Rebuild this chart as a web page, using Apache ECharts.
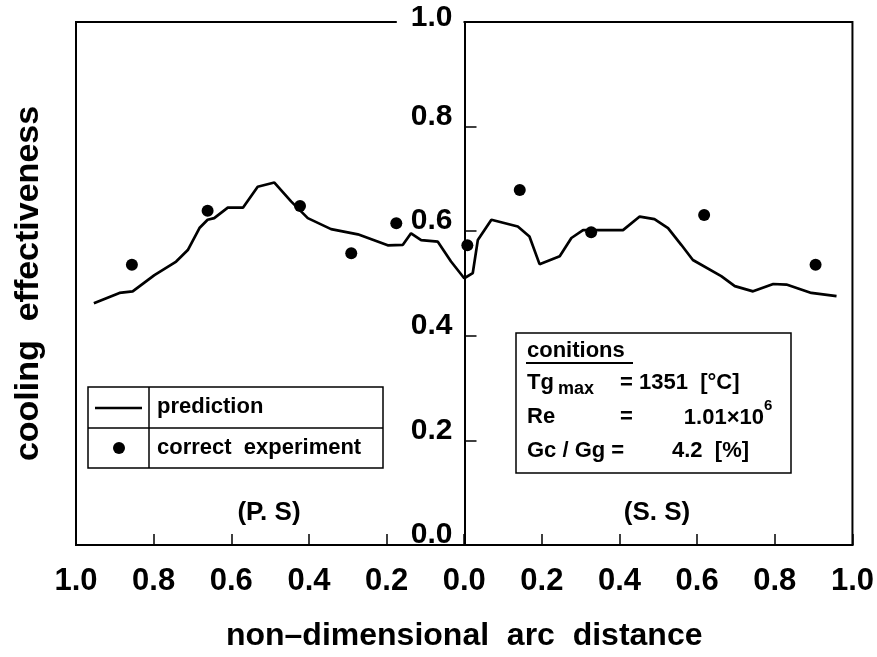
<!DOCTYPE html>
<html>
<head>
<meta charset="utf-8">
<script src="https://cdn.jsdelivr.net/npm/echarts@6/dist/echarts.min.js"></script>
<style>html,body{margin:0;padding:0;background:#fff;}#c{width:877px;height:657px;}</style>
</head>
<body>
<div id="c"></div>
<script>
// Prediction, pressure side (P.S): distance from leading edge, effectiveness
const predPSDist = [0.954,0.888,0.854,0.798,0.742,0.712,0.682,0.661,0.644,0.609,0.570,0.532,0.489,0.446,0.403,0.343,0.274,0.197,0.158,0.137,0.111,0.068,0.034,0.000];
const predPSVal  = [0.462,0.482,0.485,0.516,0.542,0.564,0.606,0.622,0.625,0.645,0.645,0.685,0.693,0.657,0.625,0.604,0.594,0.573,0.574,0.596,0.583,0.580,0.542,0.510];
// Prediction, suction side (S.S)
const predSSDist = [0.022,0.035,0.070,0.138,0.168,0.194,0.246,0.276,0.306,0.409,0.452,0.490,0.525,0.559,0.589,0.662,0.697,0.744,0.796,0.830,0.894,0.959];
const predSSVal  = [0.520,0.583,0.622,0.609,0.590,0.537,0.552,0.587,0.602,0.602,0.628,0.623,0.606,0.574,0.545,0.514,0.495,0.485,0.499,0.498,0.482,0.476];
// Corrected experiment
const expPSDist = [0.856,0.661,0.423,0.291,0.175];
const expPSVal  = [0.536,0.639,0.648,0.558,0.615];
const expSSDist = [0.008,0.143,0.327,0.618,0.905];
const expSSVal  = [0.573,0.679,0.598,0.631,0.536];

const xTicks = [-1,-0.8,-0.6,-0.4,-0.2,0,0.2,0.4,0.6,0.8,1];
const yTicks = [0,0.2,0.4,0.6,0.8,1.0];

const predData = [];
predPSDist.forEach((d,i)=>predData.push([-d, predPSVal[i]]));
predSSDist.forEach((d,i)=>predData.push([d, predSSVal[i]]));
const expData = [];
expPSDist.forEach((d,i)=>expData.push([-d, expPSVal[i]]));
expSSDist.forEach((d,i)=>expData.push([d, expSSVal[i]]));

const F = '"Liberation Sans", Arial, sans-serif';
const GL = 76, GR = 24, W = 877;
const centerOffset = -((W - GL - GR) / 2);
const chart = echarts.init(document.getElementById('c'), null, {renderer:'canvas'});
const txt = (x,y,t,size,align,extra) => Object.assign({
  type:'text', x:x, y:y, z:20,
  style:{text:t, fill:'#000', font:'bold '+size+'px '+F, align:align||'left', textAlign:align||'left', verticalAlign:'middle', textVerticalAlign:'middle'}
}, extra||{});

chart.setOption({
  animation:false,
  backgroundColor:'#fff',
  grid:{left:GL,right:GR,top:22,bottom:109,show:true,borderColor:'#000',borderWidth:2,backgroundColor:'transparent'},
  xAxis:{
    type:'value', min:-1, max:1, interval:0.2,
    name:'non\u2013dimensional  arc  distance', nameLocation:'middle', nameGap:75,
    nameTextStyle:{fontFamily:F, fontWeight:'bold', fontSize:32, color:'#000'},
    axisLine:{show:true, onZero:false, lineStyle:{color:'#000', width:2}},
    axisTick:{show:true, inside:true, length:11, lineStyle:{color:'#000', width:1.5}},
    axisLabel:{fontFamily:F, fontWeight:'bold', fontSize:31, color:'#000', margin:21,
      formatter:v=>Math.abs(v).toFixed(1)},
    splitLine:{show:false}
  },
  yAxis:[{
    type:'value', min:0, max:1, interval:0.2, z:5, position:'left', offset:centerOffset,
    axisLine:{show:true, onZero:false, lineStyle:{color:'#000', width:2}},
    axisTick:{show:true, inside:true, length:12, lineStyle:{color:'#000', width:1.5}},
    axisLabel:{margin:1, color:'#000',
      formatter:v=> (Math.abs(v-1)<1e-9 ? '{w|1.0}' : '{n|'+v.toFixed(1)+'}'),
      rich:{
        w:{fontFamily:F, fontWeight:'bold', fontSize:30, color:'#000', backgroundColor:'#fff', padding:[2,11,10,14]},
        n:{fontFamily:F, fontWeight:'bold', fontSize:30, color:'#000', padding:[0,11,20,0]}
      }},
    splitLine:{show:false}
  },{
    type:'value', min:0, max:1, interval:0.2, position:'left',
    name:'cooling  effectiveness', nameLocation:'middle', nameGap:30, nameRotate:90,
    nameTextStyle:{fontFamily:F, fontWeight:'bold', fontSize:34, color:'#000'},
    axisLine:{show:false, onZero:false}, axisTick:{show:false}, axisLabel:{show:false}, splitLine:{show:false}
  }],
  series:[{
    type:'line', name:'prediction', data:predData, showSymbol:false, symbol:'none',
    lineStyle:{color:'#000', width:2.7}, z:3
  },{
    type:'scatter', name:'correct experiment', data:expData, symbol:'circle', symbolSize:12,
    itemStyle:{color:'#000', opacity:1}, z:4
  }],
  graphic:[
    // legend table
    {type:'rect', z:20, shape:{x:88,y:387,width:295,height:81}, style:{fill:'#fff', stroke:'#000', lineWidth:1.5}},
    {type:'line', z:21, shape:{x1:88,y1:428,x2:383,y2:428}, style:{stroke:'#000', lineWidth:1.5}},
    {type:'line', z:21, shape:{x1:149,y1:387,x2:149,y2:468}, style:{stroke:'#000', lineWidth:1.5}},
    {type:'line', z:21, shape:{x1:95,y1:408,x2:142,y2:408}, style:{stroke:'#000', lineWidth:2.5}},
    {type:'circle', z:21, shape:{cx:119,cy:448,r:6}, style:{fill:'#000'}},
    txt(157,407,'prediction',22),
    txt(157,448,'correct  experiment',22),
    // conditions box
    {type:'rect', z:20, shape:{x:516,y:333,width:275,height:140}, style:{fill:'#fff', stroke:'#000', lineWidth:1.5}},
    txt(527,351,'conitions',22),
    {type:'line', z:21, shape:{x1:526,y1:363,x2:633,y2:363}, style:{stroke:'#000', lineWidth:2}},
    txt(527,383,'Tg',22),
    txt(558,389,'max',18),
    txt(620,383,'= 1351  [\u00B0C]',22),
    txt(527,417,'Re',22),
    txt(620,417,'=',22),
    txt(764,418,'1.01\u00D710',22,'right'),
    txt(764,406,'6',15),
    txt(527,451,'Gc / Gg =',22),
    txt(672,451,'4.2  [%]',22),
    // side labels
    txt(269,513,'(P. S)',26,'center'),
    txt(657,513,'(S. S)',26,'center')
  ]
});
</script>
</body>
</html>
